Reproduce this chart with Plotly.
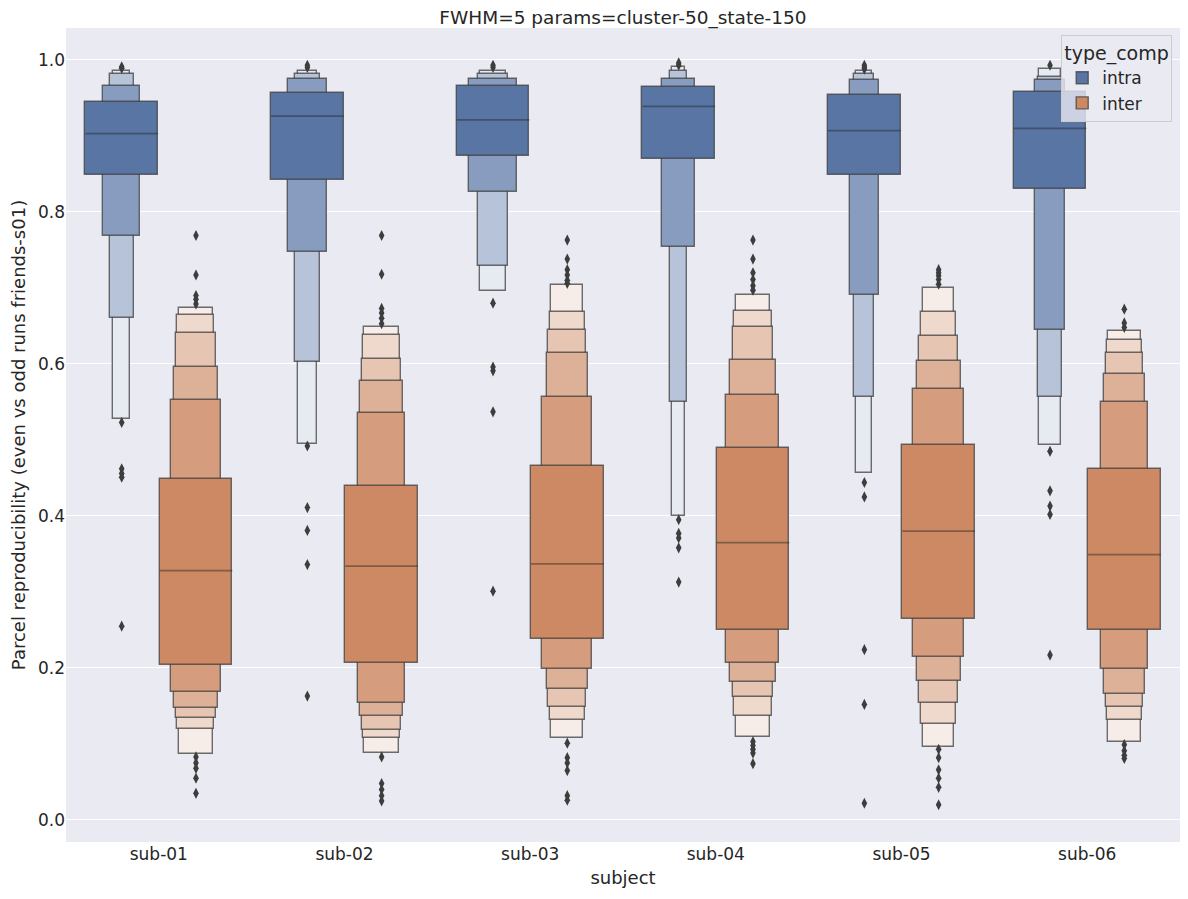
import plotly.graph_objects as go

subjects = ["sub-01", "sub-02", "sub-03", "sub-04", "sub-05", "sub-06"]
hues = ["intra", "inter"]

# Letter-value box ends, outermost level first, one value per subject
intra_lo = [
    [0.528, 0.495, 0.696, 0.400, 0.456, 0.493],
    [0.661, 0.603, 0.729, 0.550, 0.557, 0.557],
    [0.768, 0.747, 0.826, 0.754, 0.691, 0.645],
    [0.849, 0.842, 0.874, 0.870, 0.849, 0.830],
]
intra_hi = [
    [0.986, 0.986, 0.986, 0.991, 0.985, 0.988],
    [0.981, 0.981, 0.982, 0.986, 0.982, 0.978],
    [0.966, 0.975, 0.975, 0.975, 0.973, 0.973],
    [0.944, 0.957, 0.966, 0.964, 0.954, 0.958],
]
intra_median = [0.903, 0.926, 0.921, 0.939, 0.907, 0.910]

inter_lo = [
    [0.087, 0.088, 0.108, 0.109, 0.096, 0.103],
    [0.120, 0.108, 0.131, 0.137, 0.126, 0.132],
    [0.134, 0.118, 0.149, 0.162, 0.154, 0.149],
    [0.147, 0.137, 0.172, 0.182, 0.183, 0.166],
    [0.169, 0.154, 0.199, 0.207, 0.214, 0.199],
    [0.204, 0.207, 0.238, 0.250, 0.264, 0.250],
]
inter_hi = [
    [0.674, 0.648, 0.704, 0.691, 0.700, 0.643],
    [0.665, 0.638, 0.668, 0.669, 0.668, 0.632],
    [0.641, 0.607, 0.644, 0.648, 0.637, 0.615],
    [0.596, 0.577, 0.615, 0.605, 0.604, 0.587],
    [0.553, 0.536, 0.557, 0.559, 0.567, 0.550],
    [0.448, 0.440, 0.466, 0.489, 0.493, 0.462],
]
inter_median = [0.328, 0.334, 0.337, 0.365, 0.380, 0.349]

intra_outliers = [
    [0.991, 0.989, 0.523, 0.462, 0.456, 0.451, 0.255],
    [0.993, 0.990, 0.492, 0.411, 0.381, 0.336, 0.163],
    [0.993, 0.990, 0.680, 0.596, 0.591, 0.537, 0.301],
    [0.996, 0.993, 0.395, 0.377, 0.371, 0.358, 0.313],
    [0.993, 0.990, 0.988, 0.444, 0.425, 0.224, 0.152, 0.022],
    [0.993, 0.485, 0.433, 0.413, 0.402, 0.217],
]
inter_outliers = [
    [0.769, 0.717, 0.690, 0.685, 0.679, 0.083, 0.075, 0.068, 0.055, 0.035],
    [0.769, 0.718, 0.673, 0.667, 0.660, 0.653, 0.083, 0.048, 0.040, 0.032, 0.025],
    [0.763, 0.738, 0.724, 0.717, 0.710, 0.706, 0.101, 0.082, 0.075, 0.065, 0.032, 0.026],
    [0.763, 0.738, 0.720, 0.711, 0.703, 0.697, 0.103, 0.098, 0.093, 0.088, 0.074],
    [0.724, 0.720, 0.716, 0.711, 0.705, 0.093, 0.082, 0.066, 0.055, 0.043, 0.020],
    [0.672, 0.654, 0.648, 0.099, 0.091, 0.085, 0.081],
]

base_colors = {"intra": (88, 117, 164), "inter": (204, 137, 99)}
EDGE = "rgba(63,63,63,0.75)"
TEXT = "#262626"
FONT = "DejaVu Sans"
NESTED_W = 0.392
SHIFT = {"intra": -0.2, "inter": 0.2}

groups = {
    "intra": (intra_lo, intra_hi, intra_median, intra_outliers),
    "inter": (inter_lo, inter_hi, inter_median, inter_outliers),
}

fig = go.Figure()
n_sub = len(subjects)

for hue in hues:
    lo, hi, med, outl = groups[hue]
    k = len(lo)
    base = base_colors[hue]
    # area-scaled widths per subject
    widths = [[0.0] * n_sub for _ in range(k)]
    for s in range(n_sub):
        raw = [(1 - 2 ** (-k + j - 2)) / (hi[j][s] - lo[j][s]) for j in range(k)]
        m = max(raw)
        for j in range(k):
            widths[j][s] = NESTED_W * raw[j] / m
    xs = [s + SHIFT[hue] for s in range(n_sub)]
    for j in range(k):
        t = 1 - j / (k - 1)
        frac = 0.85 * t
        col = tuple(round(c + frac * (255 - c)) for c in base)
        color = "rgb(%d,%d,%d)" % col
        fig.add_trace(go.Bar(
            x=xs,
            base=lo[j],
            y=[hi[j][s] - lo[j][s] for s in range(n_sub)],
            width=widths[j],
            offset=[-w / 2 for w in widths[j]],
            marker=dict(color=color, line=dict(color=EDGE, width=1.4)),
            name=hue,
            legendgroup=hue,
            showlegend=(j == k - 1),
            hoverinfo="skip",
        ))
    # median lines
    mx, my = [], []
    for s in range(n_sub):
        w = widths[k - 1][s]
        mx += [xs[s] - w / 2, xs[s] + w / 2, None]
        my += [med[s], med[s], None]
    fig.add_trace(go.Scatter(x=mx, y=my, mode="lines",
                             line=dict(color="rgba(38,38,38,0.45)", width=1.8),
                             showlegend=False, hoverinfo="skip"))
    # outliers
    ox, oy = [], []
    for s in range(n_sub):
        ox += [xs[s]] * len(outl[s])
        oy += outl[s]
    fig.add_trace(go.Scatter(x=ox, y=oy, mode="markers",
                             marker=dict(symbol="diamond-tall", size=8, color="#3d3d3d",
                                         line=dict(width=0)),
                             showlegend=False, hoverinfo="skip"))

fig.update_layout(
    width=1172, height=883,
    barmode="overlay",
    bargap=0,
    paper_bgcolor="white",
    plot_bgcolor="#eaeaf2",
    margin=dict(l=58, r=0, t=20, b=49),
    font=dict(family=FONT, size=17, color=TEXT),
    title=dict(text="FWHM=5 params=cluster-50_state-150", x=0.5247, xanchor="center",
               y=0.996, yanchor="top", yref="container", pad=dict(t=0, b=0),
               font=dict(size=18.5, color=TEXT, family=FONT)),
    legend=dict(title=dict(text="type_comp", font=dict(size=19, color=TEXT)),
                x=0.993, xanchor="right", y=0.992, yanchor="top",
                bgcolor="rgba(234,234,242,0.8)", bordercolor="#cccccc", borderwidth=1,
                font=dict(size=17, color=TEXT), traceorder="normal"),
    xaxis=dict(range=[-0.5, n_sub - 0.5], tickmode="array",
               tickvals=list(range(n_sub)), ticktext=subjects,
               showgrid=False, zeroline=False, showline=False, ticks="",
               automargin=False,
               title=dict(text="subject", font=dict(size=18, color=TEXT), standoff=8),
               tickfont=dict(size=17, color=TEXT)),
    yaxis=dict(range=[-0.029, 1.042], tickmode="array",
               tickvals=[0.0, 0.2, 0.4, 0.6, 0.8, 1.0],
               ticktext=["0.0", "0.2", "0.4", "0.6", "0.8", "1.0"],
               showgrid=True, gridcolor="white", gridwidth=1.2,
               zeroline=False, showline=False, ticks="",
               automargin=False,
               title=dict(text="Parcel reproducibility (even vs odd runs friends-s01)",
                          font=dict(size=18, color=TEXT), standoff=10),
               tickfont=dict(size=17, color=TEXT)),
)

fig.write_html("out.html")
